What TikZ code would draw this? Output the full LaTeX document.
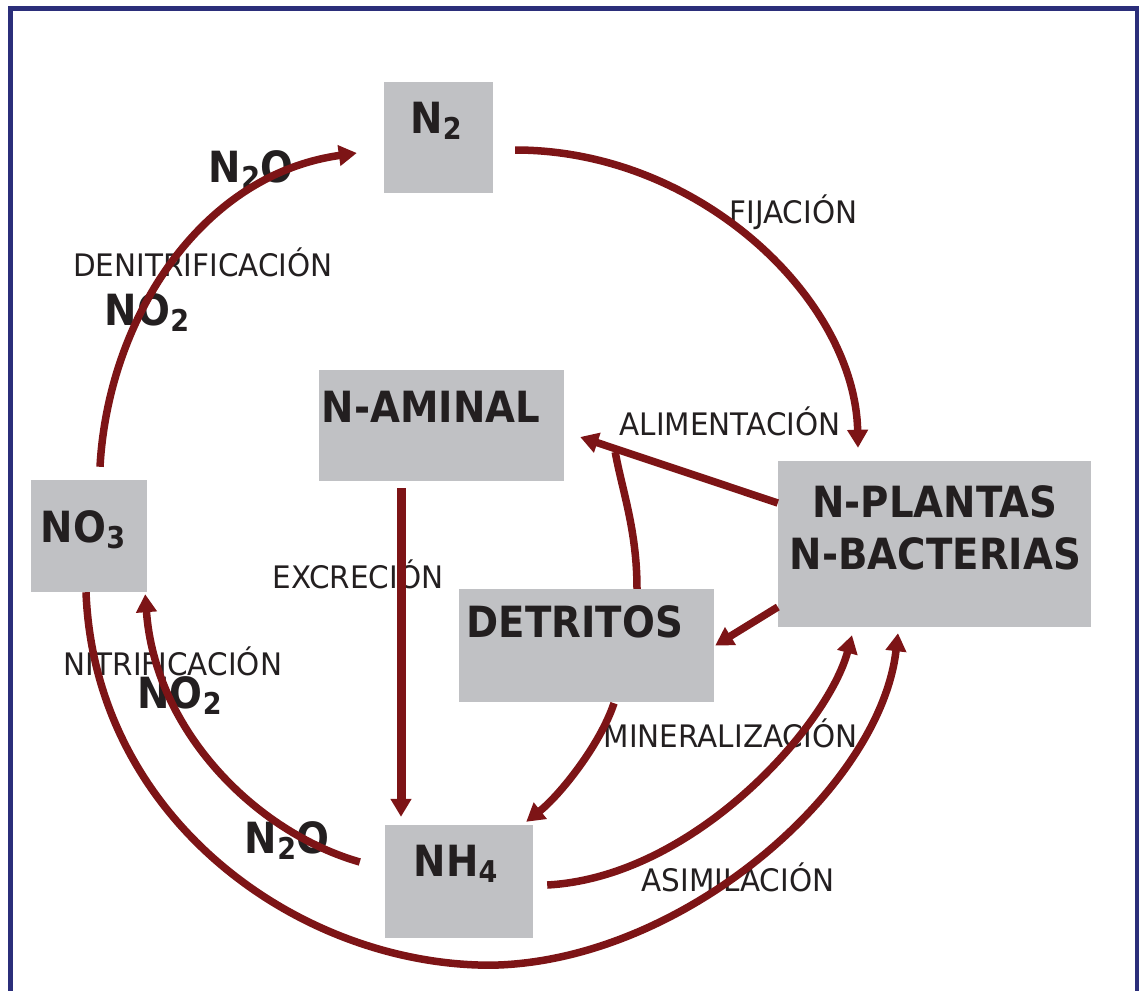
\documentclass[tikz,border=0pt]{standalone}
\usepackage{fontspec}
\usetikzlibrary{arrows.meta,calc}
\newfontfamily\bxfont[FakeStretch=0.9]{DejaVu Sans}
\newfontfamily\lbfont[FakeStretch=0.95]{DejaVu Sans}
\definecolor{arr}{RGB}{125,20,22}
\definecolor{boxgray}{RGB}{192,193,196}
\definecolor{framec}{RGB}{43,46,122}
\definecolor{ink}{RGB}{35,31,32}
\newcommand\sbx[1]{\raisebox{-6pt}{\fontsize{30}{30}\selectfont #1}}
\begin{document}
\begin{tikzpicture}[x=1pt,y=-1pt,
  box/.style={fill=boxgray, draw=none, inner sep=0pt, rectangle},
  big/.style={font=\bxfont\bfseries\fontsize{43}{50}\selectfont, text=ink, inner sep=0pt, anchor=base},
  lbl/.style={font=\lbfont\fontsize{31}{36}\selectfont, text=ink, inner sep=0pt, anchor=base},
  flow/.style={draw=arr, line width=7.5pt, -{Triangle[length=18pt,width=20pt]}},
  flowplain/.style={draw=arr, line width=7.5pt},
]
\useasboundingbox (0,0) rectangle (1139,990);
\clip (0,0) rectangle (1139,990);
% frame
\draw[framec, line width=5pt] (10,1000) -- (10,9) -- (1137,9) -- (1137,1000);

% boxes
\node[box, minimum width=109pt, minimum height=111pt] (n2box) at (438.5,137.5) {};
\node[box, minimum width=245pt, minimum height=111pt] (aminal) at (441.5,425.5) {};
\node[box, minimum width=313pt, minimum height=166pt] (plantas) at (934.5,544) {};
\node[box, minimum width=116pt, minimum height=112pt] (no3) at (89,536) {};
\node[box, minimum width=255pt, minimum height=113pt] (detritos) at (586.5,645.5) {};
\node[box, minimum width=148pt, minimum height=113pt] (nh4) at (459,881.5) {};

% box texts
\node[big] (tn2) at (436,133) {N\sbx{2}};
\node[big] (taminal) at (431,422) {N-AMINAL};
\node[big] (tplantas) at (935,517) {N-PLANTAS};
\node[big] (tbact) at (935.5,569) {N-BACTERIAS};
\node[big] (tno3) at (83,542) {NO\sbx{3}};
\node[big] (tdetritos) at (575,637) {DETRITOS};
\node[big] (tnh4) at (455.5,876) {NH\sbx{4}};

% free chemical labels
\node[big] (n2oa) at (251,182) {N\sbx{2}O};
\node[big] (no2a) at (147,325) {NO\sbx{2}};
\node[big] (no2b) at (179.5,708) {NO\sbx{2}};
\node[big] (n2ob) at (287,853) {N\sbx{2}O};

% process labels
\node[lbl] (ldenit) at (203,276) {DENITRIFICACIÓN};
\node[lbl] (lfij) at (793.5,223) {FIJACIÓN};
\node[lbl] (lalim) at (730,435) {ALIMENTACIÓN};
\node[lbl] (lexcr) at (358,588) {EXCRECIÓN};
\node[lbl] (lnitr) at (173,675) {NITRIFICACIÓN};
\node[lbl] (lminer) at (730.5,747) {MINERALIZACIÓN};
\node[lbl] (lasim) at (738,891) {ASIMILACIÓN};

% connectors
% denitrificacion NO3 -> N2
\draw[flow] ($(no3.north)+(11,-13)$) .. controls (108,320) and (200,175) .. ($(n2box.west)+(-27,15.5)$);
% fijacion N2 -> plantas
\draw[flow] ($(n2box.east)+(22,12.5)$) .. controls (700,150) and (855,300) .. ($(plantas.north)+(-76.5,-13)$);
% alimentacion plantas -> aminal
\draw[flow] ($(plantas.west)+(0,-41)$) -- ($(aminal.east)+(16,11.5)$);
% detritos joins alimentacion
\coordinate (join) at ($(aminal.east)+(51,26.5)$);
\draw[flowplain] ($(detritos.north)+(50.5,0)$) .. controls (637,530) and (622,490) .. (join);
% plantas -> detritos
\draw[flow] ($(plantas.west)+(0,63)$) -- ($(detritos.east)+(1,0)$);
% excrecion aminal -> nh4
\draw[flow, line width=9pt] ($(aminal.south)+(-40.5,7)$) -- ($(nh4.north)+(-58,-8)$);
% mineralizacion detritos -> nh4
\draw[flow] ($(detritos.south)+(27.5,1)$) .. controls (600,745) and (560,795) .. ($(nh4.north east)+(-7,-3)$);
% asimilacion nh4 -> plantas
\draw[flow] ($(nh4.east)+(14,3.5)$) .. controls (695,877) and (828,725) .. ($(plantas.south)+(-82.5,8)$);
% outer arc no3 -> plantas
\coordinate (bot) at ($(nh4.south)+(31,27)$);
\draw[flow] ($(no3.south)+(-3,0)$) .. controls (95,820) and (300,965) .. (bot)
  .. controls (680,963) and (880,790) .. ($(plantas.south)+(-36.5,6)$);
% nitrificacion nh4 -> no3
\draw[flow] ($(nh4.west)+(-25,-19.5)$) .. controls (255,832) and (155,730) .. ($(no3.south east)+(-2,2)$);
\end{tikzpicture}
\end{document}
